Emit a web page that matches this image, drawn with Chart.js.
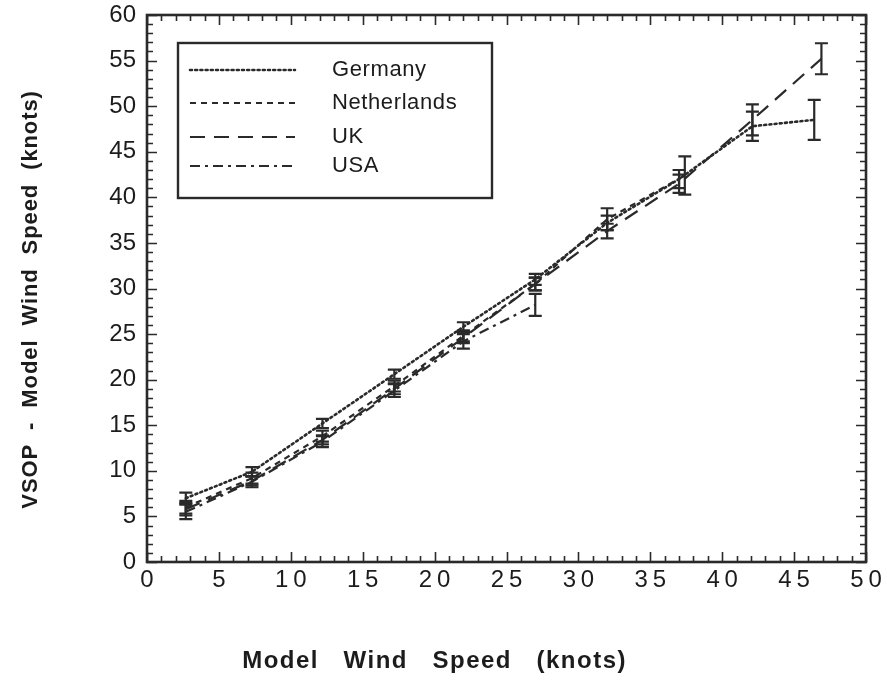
<!DOCTYPE html>
<html>
<head>
<meta charset="utf-8">
<script src="https://cdn.jsdelivr.net/npm/chart.js@4.4.1/dist/chart.umd.min.js"></script>
<style>
  html, body { margin: 0; padding: 0; background: #fff; }
  #wrap { width: 887px; height: 680px; }
</style>
</head>
<body>
<div id="wrap"><canvas id="c" width="887" height="680"></canvas></div>
<script>
// Mean VSOP - model wind speed per model wind speed bin, with error bars
const germanyX   = [2.7, 7.3, 12.2, 17.2, 22.0, 27.0, 32.0, 37.0, 42.1, 46.4];
const germanyY   = [7.0, 9.9, 15.2, 20.6, 25.8, 31.0, 37.2, 42.0, 47.8, 48.5];
const germanyErr = [0.6, 0.5, 0.5, 0.5, 0.5, 0.6, 0.8, 1.0, 1.6, 2.2];

const netherlandsX   = [2.7, 7.3, 12.2, 17.2, 22.0, 27.0, 32.0, 37.4];
const netherlandsY   = [6.0, 9.2, 13.8, 19.3, 24.8, 30.5, 37.6, 42.4];
const netherlandsErr = [0.7, 0.6, 0.6, 0.6, 0.6, 0.7, 1.2, 2.1];

const ukX   = [2.7, 7.3, 12.2, 17.2, 22.0, 27.0, 32.0, 37.0, 42.1, 46.9];
const ukY   = [5.8, 8.9, 13.4, 19.0, 24.6, 30.5, 36.3, 41.5, 48.5, 55.2];
const ukErr = [0.7, 0.5, 0.5, 0.6, 0.6, 0.7, 0.8, 1.0, 1.7, 1.7];

const usaX   = [2.7, 7.3, 12.2, 17.2, 22.0, 27.0];
const usaY   = [5.5, 8.8, 13.2, 18.8, 24.2, 28.2];
const usaErr = [0.8, 0.6, 0.6, 0.7, 0.8, 1.2];

const seriesNames = ['Germany', 'Netherlands', 'UK', 'USA'];
const xTitle = 'Model   Wind   Speed   (knots)';
const yTitle = 'VSOP  -  Model  Wind  Speed  (knots)';

const xMin = 0, xMax = 50, xStep = 5;
const yMin = 0, yMax = 60, yStep = 5;

const ink = '#2a2a2a';
const textInk = '#1c1c1c';
const family = '"Liberation Sans", Arial, sans-serif';

function pts(xs, ys) { return xs.map((x, i) => ({ x: x, y: ys[i] })); }

const errs = [germanyErr, netherlandsErr, ukErr, usaErr];

const styles = [
  { dash: [2, 3.2], width: 2.6, cap: 'round' },
  { dash: [6, 5], width: 2.2, cap: 'butt' },
  { dash: [15, 9], width: 2.2, cap: 'butt' },
  { dash: [10, 5, 3, 5], width: 2.2, cap: 'butt' }
];

const datasets = [
  [germanyX, germanyY], [netherlandsX, netherlandsY], [ukX, ukY], [usaX, usaY]
].map((s, i) => ({
  label: seriesNames[i],
  data: pts(s[0], s[1]),
  borderColor: ink,
  borderWidth: styles[i].width,
  borderDash: styles[i].dash,
  borderCapStyle: styles[i].cap,
  pointRadius: 0,
  fill: false,
  tension: 0,
  errors: errs[i]
}));

// white page
const background = {
  id: 'background',
  beforeDraw(chart) {
    const ctx = chart.ctx;
    ctx.save();
    ctx.fillStyle = '#fff';
    ctx.fillRect(0, 0, chart.width, chart.height);
    ctx.restore();
  }
};

// vertical error bars with caps
const errorBars = {
  id: 'errorBars',
  afterDatasetsDraw(chart) {
    const ctx = chart.ctx;
    const xs = chart.scales.x, ys = chart.scales.y;
    ctx.save();
    ctx.strokeStyle = ink;
    ctx.lineWidth = 2.2;
    ctx.setLineDash([]);
    chart.data.datasets.forEach(ds => {
      ds.data.forEach((p, i) => {
        const e = ds.errors[i];
        const px = xs.getPixelForValue(p.x);
        const top = ys.getPixelForValue(p.y + e);
        const bot = ys.getPixelForValue(p.y - e);
        const hw = 6.5;
        ctx.beginPath();
        ctx.moveTo(px, top); ctx.lineTo(px, bot);
        ctx.moveTo(px - hw, top); ctx.lineTo(px + hw, top);
        ctx.moveTo(px - hw, bot); ctx.lineTo(px + hw, bot);
        ctx.stroke();
      });
    });
    ctx.restore();
  }
};

// frame with inward ticks on all four sides, plus axis titles
const frame = {
  id: 'frame',
  afterDraw(chart) {
    const ctx = chart.ctx;
    const a = chart.chartArea;
    const xs = chart.scales.x, ys = chart.scales.y;
    ctx.save();
    ctx.strokeStyle = ink;
    ctx.setLineDash([]);
    ctx.lineWidth = 1.6;
    ctx.beginPath();
    for (let v = xMin; v <= xMax; v += 1) {
      const px = Math.round(xs.getPixelForValue(v)) + 0.5;
      const len = v % 5 === 0 ? 10 : 6;
      ctx.moveTo(px, a.bottom); ctx.lineTo(px, a.bottom - len);
      ctx.moveTo(px, a.top); ctx.lineTo(px, a.top + len);
    }
    for (let v = yMin; v <= yMax; v += 1) {
      const py = Math.round(ys.getPixelForValue(v)) + 0.5;
      const len = v % 5 === 0 ? 10 : 6;
      ctx.moveTo(a.left, py); ctx.lineTo(a.left + len, py);
      ctx.moveTo(a.right, py); ctx.lineTo(a.right - len, py);
    }
    ctx.stroke();
    ctx.lineWidth = 2.6;
    ctx.strokeRect(a.left, a.top, a.right - a.left, a.bottom - a.top);

    // axis titles
    ctx.fillStyle = textInk;
    ctx.textAlign = 'center';
    ctx.textBaseline = 'middle';
    ctx.letterSpacing = '1.5px';
    ctx.font = 'bold 24px ' + family;
    ctx.fillText(xTitle, a.left + 0.4 * (a.right - a.left), 661);
    ctx.translate(31, a.top + 0.52 * (a.bottom - a.top));
    ctx.rotate(-Math.PI / 2);
    ctx.letterSpacing = '0.9px';
    ctx.font = 'bold 22px ' + family;
    ctx.fillText(yTitle, 0, 0);
    ctx.restore();
  }
};

// boxed legend inside the plot
const boxLegend = {
  id: 'boxLegend',
  afterDraw(chart) {
    const ctx = chart.ctx;
    const a = chart.chartArea;
    const bx = a.left + 31, by = a.top + 28, bw = 314, bh = 155;
    ctx.save();
    ctx.fillStyle = '#fff';
    ctx.fillRect(bx, by, bw, bh);
    ctx.strokeStyle = ink;
    ctx.lineWidth = 2.4;
    ctx.setLineDash([]);
    ctx.strokeRect(bx, by, bw, bh);
    ctx.letterSpacing = '0.6px';
    ctx.font = '22px ' + family;
    ctx.fillStyle = textInk;
    ctx.textBaseline = 'middle';
    const rows = [27, 60, 94, 123];
    chart.data.datasets.forEach((ds, i) => {
      const yy = by + rows[i];
      ctx.strokeStyle = ink;
      ctx.lineWidth = ds.borderWidth;
      ctx.lineCap = ds.borderCapStyle;
      ctx.setLineDash(ds.borderDash);
      ctx.beginPath();
      ctx.moveTo(bx + 12, yy); ctx.lineTo(bx + 117, yy);
      ctx.stroke();
      ctx.fillText(ds.label, bx + 154, yy);
    });
    ctx.restore();
  }
};

const tickFont = { family: family, size: 24 };

const canvas = document.getElementById('c');
const ctx2d = canvas.getContext('2d');
ctx2d.letterSpacing = '1px';

new Chart(ctx2d, {
  type: 'line',
  data: { datasets: datasets },
  options: {
    responsive: false,
    animation: false,
    layout: { padding: { top: 15, right: 21, left: 0, bottom: 0 } },
    plugins: { legend: { display: false }, tooltip: { enabled: false } },
    scales: {
      x: {
        type: 'linear', min: xMin, max: xMax,
        afterFit(s) { s.height = 118; s.paddingLeft = 0; s.paddingRight = 0; },
        grid: { display: false, drawTicks: false },
        border: { display: false },
        ticks: {
          stepSize: xStep, color: textInk, font: tickFont, padding: 4, maxRotation: 0,
          callback: v => String(v).split('').join('\u2009')
        }
      },
      y: {
        type: 'linear', min: yMin, max: yMax,
        afterFit(s) { s.width = 147; s.paddingTop = 0; s.paddingBottom = 0; },
        grid: { display: false, drawTicks: false },
        border: { display: false },
        ticks: { stepSize: yStep, color: textInk, font: tickFont, padding: 11 }
      }
    }
  },
  plugins: [background, errorBars, frame, boxLegend]
});
</script>
</body>
</html>
